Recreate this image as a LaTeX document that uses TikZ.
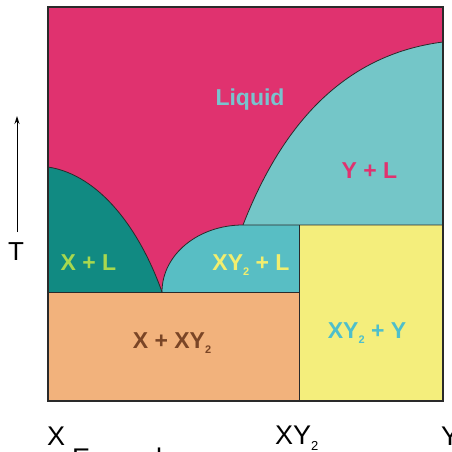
\documentclass[tikz,border=0pt]{standalone}
\usepackage{fontspec}
\setmainfont{Liberation Sans}
\usetikzlibrary{arrows.meta}
\definecolor{liq}{HTML}{E0326F}
\definecolor{xl}{HTML}{118A82}
\definecolor{xyl}{HTML}{58BEC4}
\definecolor{yl}{HTML}{74C6C8}
\definecolor{orng}{HTML}{F2B27C}
\definecolor{yell}{HTML}{F4EE7C}
\definecolor{tliq}{HTML}{79C3CE}
\definecolor{txl}{HTML}{A8D84E}
\definecolor{txyl}{HTML}{F2EE6E}
\definecolor{tyl}{HTML}{E0326F}
\definecolor{txxy}{HTML}{7A4526}
\definecolor{txyy}{HTML}{4EBFCB}
\definecolor{edge}{HTML}{2A2A2A}
\newcommand\subtwo[1][11]{\raisebox{-0.25em}{\fontsize{#1}{#1}\selectfont 2}}
\tikzset{
  phase/.style={font=\fontsize{23}{23}\selectfont\bfseries, anchor=base, inner sep=0pt},
  axislbl/.style={font=\fontsize{27}{27}\selectfont, anchor=base west, inner sep=0pt},
  bound/.style={draw=edge, line width=0.8pt},
}
\begin{document}
\begin{tikzpicture}[x=1pt,y=-1pt]
\useasboundingbox (0,0) rectangle (452,452);
\clip (0,0) rectangle (452,452);
\coordinate (TL) at (48,7);
\coordinate (BR) at (443,401);
\coordinate (A) at (48,167);
\coordinate (E) at (162,292);
\coordinate (P) at (243,225);
\coordinate (Q) at (443,42);
\coordinate (R) at (443,225);
\coordinate (S) at (299,225);
\coordinate (U) at (299,292);
\coordinate (V) at (48,292);
\coordinate (W) at (299,401);
\coordinate (Tb) at (17,232);
\coordinate (Tt) at (17,116);
% regions
\fill[liq] (TL) rectangle (BR);
\fill[xl] (A) .. controls (100,175) and (140,230) .. (E) -- (V) -- cycle;
\fill[yl] (P) .. controls (280,130) and (340,55) .. (Q) -- (R) -- cycle;
\fill[xyl] (E) .. controls (162,254.5) and (198.3,225) .. (P) -- (S) -- (U) -- cycle;
\fill[orng] (V) rectangle (W);
\fill[yell] (S) rectangle (BR);
% boundaries
\draw[bound] (A) .. controls (100,175) and (140,230) .. (E);
\draw[bound] (P) .. controls (280,130) and (340,55) .. (Q);
\draw[bound] (E) .. controls (162,254.5) and (198.3,225) .. (P) -- (R);
\draw[bound] (V) -- (U);
\draw[bound] (S) -- (W);
\draw[draw=edge, line width=1.2pt] (TL) rectangle (BR);
% labels
\node[phase, text=tliq] (liquid) at (250,105) {Liquid};
\node[phase, text=tyl] (yl) at (369.5,178) {Y + L};
\node[phase, text=txl] (xl) at (88.5,270) {X + L};
\node[phase, text=txyl] (xyl) at (251,270) {XY\subtwo{} + L};
\node[phase, text=txxy] (xxy) at (172,348) {X + XY\subtwo};
\node[phase, text=txyy] (xyy) at (367,338) {XY\subtwo{} + Y};
% axes
\node[axislbl] (lx) at (47,445) {X};
\node[axislbl] (lxy) at (275,444) {XY\subtwo[13]};
\node[axislbl] (ly) at (441,445) {Y};
\node[axislbl] (ex) at (72,467) {Example};
\draw[line width=0.9pt, -{Stealth[length=8pt,width=5pt]}] (Tb) -- (Tt);
\node[font=\fontsize{26}{26}\selectfont, anchor=base, inner sep=0pt] (T) at (16,260) {T};
\end{tikzpicture}
\end{document}
